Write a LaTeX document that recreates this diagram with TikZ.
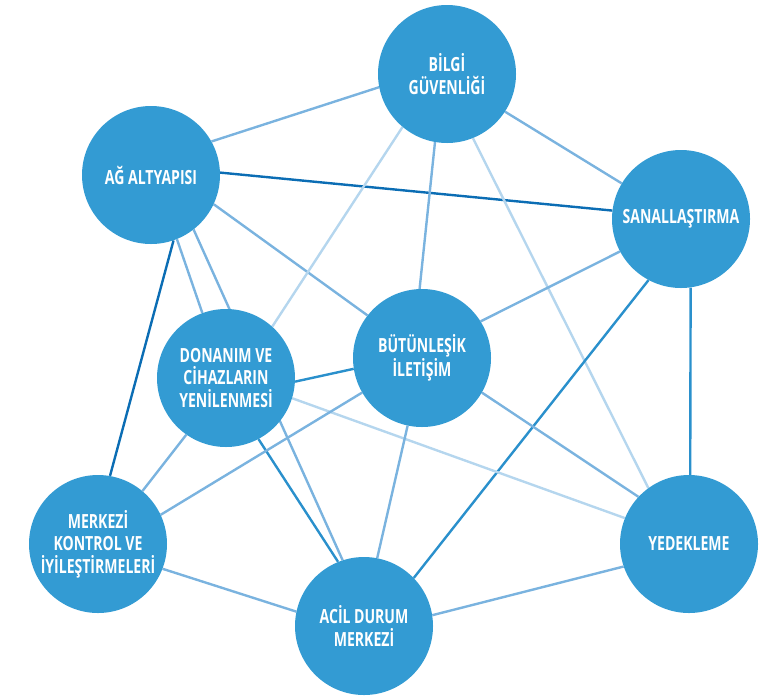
\documentclass[tikz,border=0pt]{standalone}
\usepackage{fontspec}
\newfontfamily\hubfont{Open Sans}
\usetikzlibrary{backgrounds}
\definecolor{hubblue}{HTML}{339BD3}
\definecolor{linkdark}{HTML}{0B6DB4}
\definecolor{linkmid}{HTML}{2A90CC}
\definecolor{linklite}{HTML}{7AB3DF}
\definecolor{linkpale}{HTML}{B5D6EE}
% condensed caption line
\newcommand\cond[1]{\scalebox{0.72}[1]{#1}}

\begin{document}
\begin{tikzpicture}[
  x=1pt, y=-1pt,
  hub/.style={circle, fill=hubblue, minimum size=138pt, inner sep=0pt,
    font=\hubfont\bfseries\fontsize{19.5}{22.5}\selectfont,
    text=white, align=center},
  link/.style={line width=2.4pt, draw=#1},
]

% Canvas
\useasboundingbox (0,0) rectangle (770,697);

% === Hubs ===
\node[hub] (bilgi)   at (447,74)  {\cond{BİLGİ}\\\cond{GÜVENLİĞİ}};
\node[hub] (ag)      at (151,175) {\cond{AĞ ALTYAPISI}};
\node[hub] (sanal)   at (681,219) {\cond{SANALLAŞTIRMA}};
\node[hub] (donanim) at (226,378) {\cond{DONANIM VE}\\\cond{CİHAZLARIN}\\\cond{YENİLENMESİ}};
\node[hub] (butun)   at (422,358) {\cond{BÜTÜNLEŞİK}\\\cond{İLETİŞİM}};
\node[hub] (merkezi) at (98,544)  {\cond{MERKEZİ}\\\cond{KONTROL VE}\\\cond{İYİLEŞTİRMELERİ}};
\node[hub] (yedek)   at (689,544) {\cond{YEDEKLEME}};
\node[hub] (acil)    at (364,626) {\cond{ACİL DURUM}\\\cond{MERKEZİ}};

% === Links (behind the hubs) ===
\begin{scope}[on background layer]
  % from AĞ ALTYAPISI
  \draw[link=linklite] (ag.29)  -- (bilgi.191);
  \draw[link=linkdark] (ag.2)   -- (sanal.173);
  \draw[link=linklite] (ag.-25) -- (butun.142);
  \draw[link=linklite] (ag.-68) -- (donanim.110);
  \draw[link=linklite] (ag.-52) -- (acil.108);
  \draw[link=linkdark] (ag.-71) -- (merkezi.80);

  % from BİLGİ GÜVENLİĞİ
  \draw[link=linklite] (bilgi.-33) -- (sanal.149);
  \draw[link=linkpale] (bilgi.230) -- (donanim.48);
  \draw[link=linklite] (bilgi.260) -- (butun.92);
  \draw[link=linkpale] (bilgi.-68) -- (yedek.126);

  % from SANALLAŞTIRMA
  \draw[link=linklite] (sanal.208) -- (butun.32);
  \draw[link=linkmid]  (sanal.-82) -- (yedek.89);
  \draw[link=linkmid]  (sanal.242) -- (acil.44);

  % from DONANIM
  \draw[link=linkmid]  (donanim.-3)  -- (butun.189);
  \draw[link=linkpale] (donanim.-17) -- (yedek.158);
  \draw[link=linklite] (donanim.235) -- (merkezi.50);
  \draw[link=linkmid]  (donanim.-62) -- (acil.112);

  % from BÜTÜNLEŞİK İLETİŞİM
  \draw[link=linklite] (butun.210) -- (merkezi.25);
  \draw[link=linklite] (butun.-30) -- (yedek.137);
  \draw[link=linklite] (butun.258) -- (acil.79);

  % bottom ring
  \draw[link=linklite] (merkezi.-21) -- (acil.168);
  \draw[link=linklite] (acil.9)      -- (yedek.199);
\end{scope}

\end{tikzpicture}
\end{document}
